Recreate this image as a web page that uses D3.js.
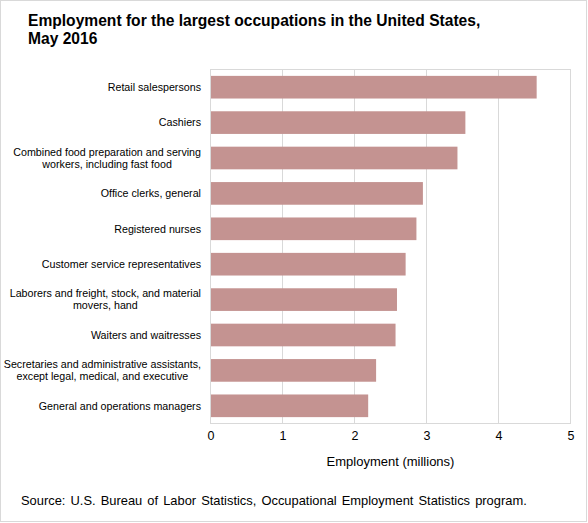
<!DOCTYPE html>
<html>
<head>
<meta charset="utf-8">
<script src="https://cdn.jsdelivr.net/npm/d3@7"></script>
<style>
  body { margin: 0; background: #fff; }
  text { font-family: "Liberation Sans", Arial, sans-serif; fill: #000; }
</style>
</head>
<body>
<svg id="chart" width="588" height="523"></svg>
<script>
// occupations, top to bottom ("\n" marks the label line break)
const occupations = [
  "Retail salespersons",
  "Cashiers",
  "Combined food preparation and serving\nworkers, including fast food",
  "Office clerks, general",
  "Registered nurses",
  "Customer service representatives",
  "Laborers and freight, stock, and material\nmovers, hand",
  "Waiters and waitresses",
  "Secretaries and administrative assistants,\nexcept legal, medical, and executive",
  "General and operations managers"
];
// employment, millions
const employment = [4.53, 3.54, 3.43, 2.95, 2.86, 2.71, 2.59, 2.57, 2.30, 2.19];
const xTicks = [0, 1, 2, 3, 4, 5];

const svg = d3.select("#chart");
const width = +svg.attr("width");
const height = +svg.attr("height");

//outer frame
svg.append("rect")
  .attr("x", 0.5).attr("y", 0.5)
  .attr("width", width - 2).attr("height", height - 2)
  .attr("fill", "#fff")
  .attr("stroke", "#d9d9d9");

//plot area
const plotL = 210.5, plotR = 570.5, plotT = 69.5, plotB = 423.5;

const x = d3.scaleLinear().domain([0, 5]).range([plotL, plotR]);
const y = d3.scaleBand()
  .domain(occupations)
  .range([plotT, plotB])
  .paddingInner(0.36)
  .paddingOuter(0.18);

//grid lines
svg.append("g")
  .selectAll("line")
  .data(xTicks.slice(1, -1))
  .join("line")
  .attr("x1", d => x(d)).attr("x2", d => x(d))
  .attr("y1", plotT).attr("y2", plotB)
  .attr("stroke", "#d9d9d9");

//plot border
svg.append("rect")
  .attr("x", plotL).attr("y", plotT)
  .attr("width", plotR - plotL).attr("height", plotB - plotT)
  .attr("fill", "none")
  .attr("stroke", "#d9d9d9");

//bars
svg.append("g")
  .selectAll("rect")
  .data(occupations)
  .join("rect")
  .attr("x", x(0) + 0.5)
  .attr("y", d => y(d))
  .attr("width", (d, i) => x(employment[i]) - x(0) - 0.5)
  .attr("height", y.bandwidth())
  .attr("fill", "#c49391");

//x axis
const xAxis = svg.append("g")
  .attr("transform", `translate(0,${plotB})`)
  .call(d3.axisBottom(x).tickValues(xTicks).tickFormat(d3.format("d")).tickSize(0).tickPadding(8));
xAxis.select(".domain").remove();
xAxis.attr("font-family", null);
xAxis.selectAll("text")
  .attr("font-size", "12.5px");

svg.append("text")
  .attr("x", (plotL + plotR) / 2)
  .attr("y", 466)
  .attr("text-anchor", "middle")
  .attr("font-size", "13px")
  .text("Employment (millions)");

//y labels
const labelX = 201;
const labels = svg.append("g")
  .selectAll("text")
  .data(occupations)
  .join("text")
  .attr("text-anchor", "end")
  .attr("font-size", "10.7px")
  .attr("x", labelX)
  .attr("y", d => y(d) + y.bandwidth() / 2);

labels.each(function (d) {
  const lines = d.split("\n");
  const t = d3.select(this);
  const startDy = -(lines.length - 1) * 0.56 + 0.35;
  lines.forEach((line, i) => {
    t.append("tspan")
      .attr("x", labelX)
      .attr("dy", i === 0 ? `${startDy}em` : "1.12em")
      .text(line);
  });
});
// second lines are centered under the first in the reference
labels.each(function () {
  const spans = d3.select(this).selectAll("tspan").nodes();
  if (spans.length > 1) {
    const w0 = spans[0].getComputedTextLength();
    d3.select(this).attr("text-anchor", "middle");
    spans.forEach(s => s.setAttribute("x", labelX - w0 / 2));
  }
});

//title
const title = svg.append("text")
  .attr("x", 28)
  .attr("y", 26)
  .attr("font-size", "15.6px")
  .attr("font-weight", "bold");
title.append("tspan").attr("x", 28).text("Employment for the largest occupations in the United States,");
title.append("tspan").attr("x", 28).attr("dy", 18).text("May 2016");

//source
svg.append("text")
  .attr("x", 21)
  .attr("y", 505)
  .attr("font-size", "12.9px")
  .attr("word-spacing", "1.5px")
  .text("Source: U.S. Bureau of Labor Statistics, Occupational Employment Statistics program.");
</script>
</body>
</html>
